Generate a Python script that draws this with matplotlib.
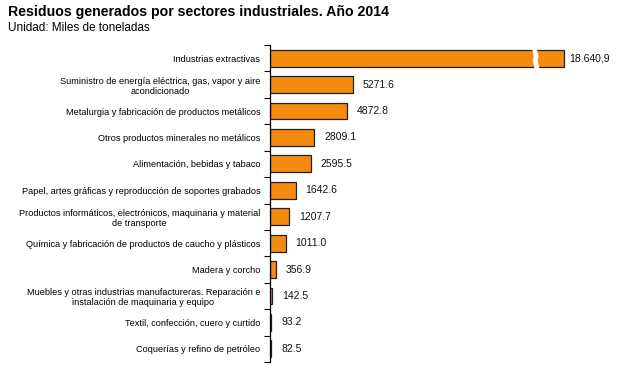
import matplotlib
matplotlib.use("Agg")
import matplotlib.pyplot as plt
import numpy as np

plt.rcParams["font.family"] = ["Liberation Sans", "DejaVu Sans"]

# --- Data --------------------------------------------------------------
sectors = [
    "Industrias extractivas",
    "Suministro de energía eléctrica, gas, vapor y aire\nacondicionado",
    "Metalurgia y fabricación de productos metálicos",
    "Otros productos minerales no metálicos",
    "Alimentación, bebidas y tabaco",
    "Papel, artes gráficas y reproducción de soportes grabados",
    "Productos informáticos, electrónicos, maquinaria y material\nde transporte",
    "Química y fabricación de productos de caucho y plásticos",
    "Madera y corcho",
    "Muebles y otras industrias manufactureras. Reparación e\ninstalación de maquinaria y equipo",
    "Textil, confección, cuero y curtido",
    "Coquerías y refino de petróleo",
]
values = [18640.9, 5271.6, 4872.8, 2809.1, 2595.5, 1642.6,
          1207.7, 1011.0, 356.9, 142.5, 93.2, 82.5]
value_labels = ["18.640,9", "5271.6", "4872.8", "2809.1", "2595.5", "1642.6",
                "1207.7", "1011.0", "356.9", "142.5", "93.2", "82.5"]

W, H = 627, 368
fig = plt.figure(figsize=(W / 100, H / 100), dpi=100)
ax = fig.add_axes([270 / W, (H - 362) / H, 345 / W, 317 / H])

y = np.arange(len(sectors))
ax.barh(y, values, height=0.64, color="#F58A11", edgecolor="#222222", linewidth=0.9)

ax.set_xlim(0, 21900)
ax.set_ylim(len(sectors) - 0.5, -0.5)

# break mark on the oversized bar (white zigzag gap)
bx = values[0] * 0.895
left_edge = [(bx - 60, -0.4), (bx + 60, -0.05), (bx - 10, 0.05), (bx + 110, 0.4)]
right_edge = [(bx + 420, 0.4), (bx + 300, 0.05), (bx + 370, -0.05), (bx + 250, -0.4)]
gap = left_edge + right_edge
ax.fill([p[0] for p in gap], [p[1] for p in gap], color="white", zorder=3, lw=0)

for yi, v, lab in zip(y, values, value_labels):
    off = 4 if yi == 0 else 7
    ax.annotate(lab, (v, yi), xytext=(off, 0), textcoords="offset points",
                va="center", ha="left", fontsize=7.5, color="#111111")

ax.set_yticks(y)
ax.set_yticklabels(sectors, fontsize=6.6, multialignment="center")
ax.tick_params(axis="y", which="major", length=0, pad=7)
ax.set_yticks(np.arange(-0.5, len(sectors)), minor=True)
ax.tick_params(axis="y", which="minor", length=4, width=0.8, direction="out")
ax.set_xticks([])
for s in ["top", "right", "bottom"]:
    ax.spines[s].set_visible(False)
ax.spines["left"].set_linewidth(0.9)

fig.text(8 / W, 1 - 12 / H, "Residuos generados por sectores industriales. Año 2014",
         fontsize=10.2, fontweight="bold", va="center", ha="left")
fig.text(8 / W, 1 - 28 / H, "Unidad: Miles de toneladas",
         fontsize=8.5, va="center", ha="left")

fig.savefig("out.png", dpi=100)
